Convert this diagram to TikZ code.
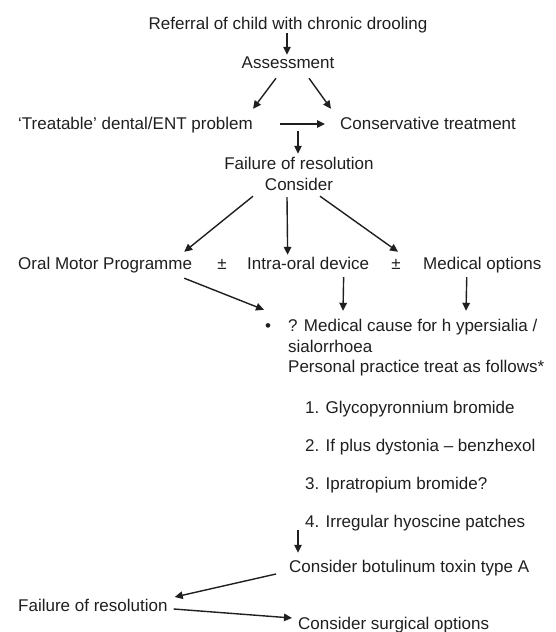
\documentclass[tikz,border=0pt]{standalone}
\usepackage{fontspec}
\setmainfont{Liberation Sans}
\usetikzlibrary{arrows.meta}
\tikzset{
  txt/.style={inner sep=0pt, text height=12.5pt, text depth=3.6pt, font=\fontsize{17pt}{20pt}\selectfont, text=black!88},
  arr/.style={line width=1.4pt, draw=black!88, -{Triangle[length=8pt,width=7.5pt]}}
}
\begin{document}
\begin{tikzpicture}[x=1pt,y=-1pt]
\path[use as bounding box] (0,0) rectangle (555,632);
% nodes
\node[txt, anchor=base] (ref) at (288,29.1) {Referral of child with chronic drooling};
\node[txt, anchor=base] (assess) at (288,68.1) {Assessment};
\node[txt, anchor=base west] (treat) at (18,129.1) {‘Treatable’ dental/ENT problem};
\node[txt, anchor=base west] (cons) at (340,129.1) {Conservative treatment};
\node[txt, anchor=base] (fail) at (299,169.1) {Failure of resolution};
\node[txt, anchor=base] (consider) at (299,190.1) {Consider};
\node[txt, anchor=base west] (omp) at (18,269.1) {Oral Motor Programme};
\node[txt, anchor=base] (pm1) at (222,269.1) {±};
\node[txt, anchor=base west] (intra) at (247,269.1) {Intra-oral device};
\node[txt, anchor=base] (pm2) at (396,269.1) {±};
\node[txt, anchor=base west] (med) at (423,269.1) {Medical options};
\node[txt, anchor=base] (bullet) at (268,331.1) {•};
\node[txt, anchor=base west] (cause1) at (288,331.1) {? Medical cause for h ypersialia /};
\node[txt, anchor=base west] (cause2) at (288,352.1) {sialorrhoea};
\node[txt, anchor=base west] (cause3) at (288,372.1) {Personal practice treat as follows*};
\node[txt, anchor=base west] (item1) at (305,413.1) {1. Glycopyronnium bromide};
\node[txt, anchor=base west] (item2) at (305,451.1) {2. If plus dystonia – benzhexol};
\node[txt, anchor=base west] (item3) at (305,489.1) {3. Ipratropium bromide?};
\node[txt, anchor=base west] (item4) at (305,527.1) {4. Irregular hyoscine patches};
\node[txt, anchor=base west] (botu) at (289,572.1) {Consider botulinum toxin type A};
\node[txt, anchor=base west] (fail2) at (18,611.1) {Failure of resolution};
\node[txt, anchor=base west] (surg) at (298,629.6) {Consider surgical options};
% connectors
\draw[arr] ([shift={(-1,0.3)}]ref.south) -- ([shift={(-1,-0.6)}]assess.north);
\draw[arr] ([shift={(-12,6.3)}]assess.south) -- ([shift={(0,-7.6)}]treat.north east);
\draw[arr] ([shift={(21,6.3)}]assess.south) -- ([shift={(-9,-7.6)}]cons.north west);
\draw[arr] ([shift={(27,-0.65)}]treat.east) -- ([shift={(-15,-0.65)}]cons.west);
\draw[arr] ([shift={(-1,-25.6)}]fail.north) -- ([shift={(-1,-2.6)}]fail.north);
\draw[arr] ([shift={(-46,2.3)}]consider.south) -- ([shift={(-8,-4.6)}]omp.north east);
\draw[arr] ([shift={(-12,3.3)}]consider.south) -- ([shift={(-20.5,-1.6)}]intra.north);
\draw[arr] ([shift={(21,2.3)}]consider.south) -- ([shift={(2,-4.6)}]pm2.north);
\draw[arr] ([shift={(-8,5.3)}]omp.south east) -- ([shift={(-4,-8.6)}]bullet.north);
\draw[arr] ([shift={(35.5,4.3)}]intra.south) -- ([shift={(55,-7.6)}]cause1.north west);
\draw[arr] ([shift={(-15.5,4.3)}]med.south) -- ([shift={(178,-7.6)}]cause1.north west);
\draw[arr] ([shift={(-7,-0.7)}]item4.south west) -- ([shift={(9,-6.6)}]botu.north west);
\draw[arr] ([shift={(-13,6.35)}]botu.west) -- ([shift={(7,-9.65)}]fail2.east);
\draw[arr] ([shift={(6,2.35)}]fail2.east) -- ([shift={(-6,-7.15)}]surg.west);
\end{tikzpicture}
\end{document}
